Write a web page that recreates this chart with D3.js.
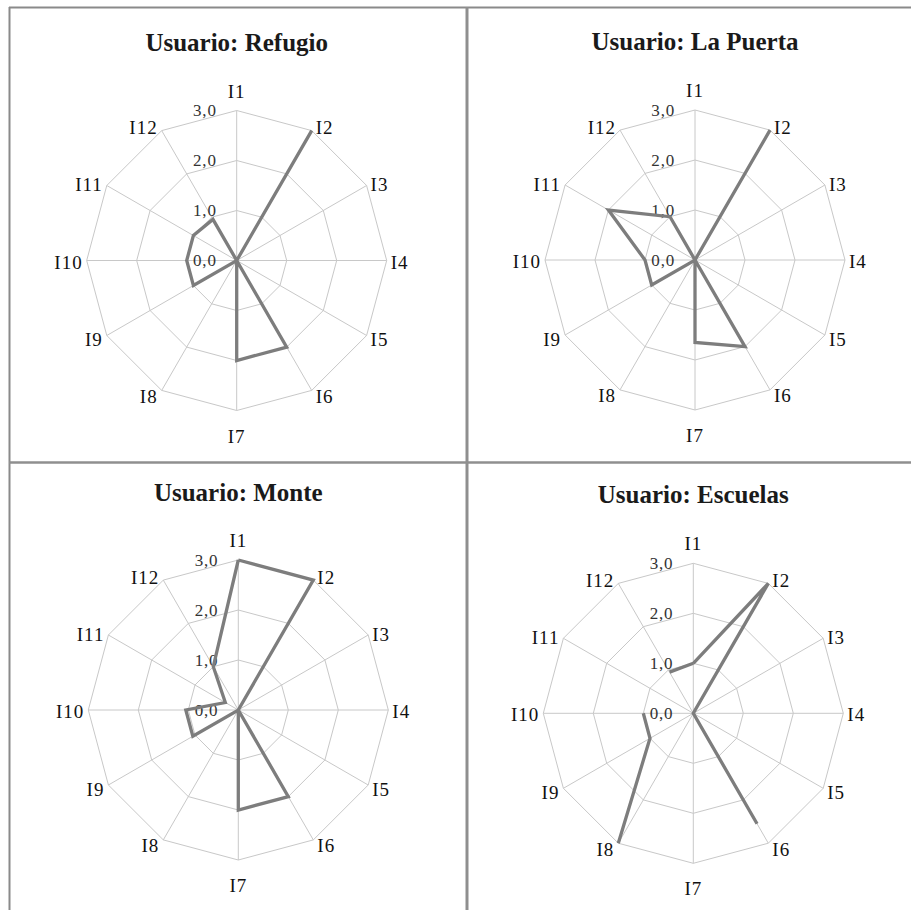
<!DOCTYPE html>
<html>
<head>
<meta charset="utf-8">
<script src="https://cdn.jsdelivr.net/npm/d3@7"></script>
<style>
  html, body { margin: 0; padding: 0; background: #ffffff; }
  svg { display: block; }
</style>
</head>
<body>
<svg id="chart" width="911" height="910"></svg>
<script>
// ---- data ----
const categories = ["I1","I2","I3","I4","I5","I6","I7","I8","I9","I10","I11","I12"];
const tickValues = [0, 1, 2, 3];
const tickLabels = ["0,0", "1,0", "2,0", "3,0"];
const titles = ["Usuario: Refugio", "Usuario: La Puerta", "Usuario: Monte", "Usuario: Escuelas"];
const refugio  = [0, 3, 0, 0, 0, 2, 2, 0, 1, 1, 1, 0.95];
const laPuerta = [0, 3, 0, 0, 0, 2, 1.65, 0, 1, 1, 2, 1];
const monte    = [3, 3, 0, 0, 0, 2, 2, 0, 1.05, 1.05, 0.3, 1];
const escuelas = [1, 3, 0, 0, 0, 2.55, null, 3, 1, 1, null, 0.95];

// ---- layout ----
const panels = [
  { title: titles[0], values: refugio,  cx: 236.7, cy: 260.5, ty: 51 },
  { title: titles[1], values: laPuerta, cx: 695,   cy: 260,   ty: 50 },
  { title: titles[2], values: monte,    cx: 238.3, cy: 710,   ty: 501 },
  { title: titles[3], values: escuelas, cx: 693.3, cy: 713.3, ty: 503 }
];
const R = 150;
const svg = d3.select("#chart");

const rScale = d3.scaleLinear().domain([0, 3]).range([0, R]);
const aScale = d3.scaleLinear().domain([0, categories.length]).range([0, 2 * Math.PI]);

function pt(i, v) {
  const a = aScale(i), r = rScale(v);
  return [r * Math.sin(a), -r * Math.cos(a)];
}

panels.forEach(p => {
  const g = svg.append("g").attr("transform", `translate(${p.cx},${p.cy})`);

  // rings
  tickValues.filter(t => t > 0).forEach(t => {
    g.append("path")
      .attr("d", d3.line()(categories.map((c, i) => pt(i, t))) + "Z")
      .attr("fill", "none")
      .attr("stroke", "#c8c8c8")
      .attr("stroke-width", 1);
  });
  // spokes
  categories.forEach((c, i) => {
    const e = pt(i, 3);
    g.append("line")
      .attr("x1", 0).attr("y1", 0)
      .attr("x2", e[0]).attr("y2", e[1])
      .attr("stroke", "#c8c8c8")
      .attr("stroke-width", 1);
  });

  // value labels
  tickValues.forEach((t, k) => {
    g.append("text")
      .attr("x", -20)
      .attr("y", -rScale(t))
      .attr("dy", "0.35em")
      .attr("text-anchor", "end")
      .attr("font-family", "Liberation Serif, serif")
      .attr("font-size", 17)
      .attr("letter-spacing", 0.8)
      .attr("fill", "#333333")
      .text(tickLabels[k]);
  });

  // category labels
  categories.forEach((c, i) => {
    const a = aScale(i);
    const s = Math.sin(a), co = Math.cos(a);
    const v = pt(i, 3);
    const t = g.append("text")
      .attr("font-family", "Liberation Serif, serif")
      .attr("font-size", 19)
      .attr("letter-spacing", 1)
      .attr("fill", "#111111")
      .text(c);
    if (i === 0) {
      t.attr("x", 0).attr("y", -R - 13).attr("text-anchor", "middle");
    } else if (i === 6) {
      t.attr("x", 0).attr("y", R + 32).attr("text-anchor", "middle");
    } else {
      t.attr("x", v[0] + (s > 0 ? 4 : -4))
       .attr("y", v[1] + 1.5 - 5 * co)
       .attr("dy", "0.35em")
       .attr("text-anchor", s > 0 ? "start" : "end");
    }
  });

  // data line (closed, with gaps for missing values)
  const idx = d3.range(categories.length + 1).map(i => i % categories.length);
  const line = d3.line()
    .defined(i => p.values[i] !== null)
    .x(i => pt(i, p.values[i])[0])
    .y(i => pt(i, p.values[i])[1]);
  g.append("path")
    .attr("d", line(idx))
    .attr("fill", "none")
    .attr("stroke", "#7d7d7d")
    .attr("stroke-width", 3.3)
    .attr("stroke-linejoin", "miter");

  // title
  svg.append("text")
    .attr("x", p.cx)
    .attr("y", p.ty)
    .attr("text-anchor", "middle")
    .attr("font-family", "Liberation Serif, serif")
    .attr("font-weight", "bold")
    .attr("font-size", 25)
    .attr("fill", "#1a1a1a")
    .text(p.title);
});

// frame lines
const frame = svg.append("g").attr("fill", "none");
frame.append("line").attr("x1", 9.5).attr("y1", 7).attr("x2", 9.5).attr("y2", 910)
  .attr("stroke", "#8a8a8a").attr("stroke-width", 2);
frame.append("line").attr("x1", 9).attr("y1", 7.5).attr("x2", 911).attr("y2", 7.5)
  .attr("stroke", "#8a8a8a").attr("stroke-width", 2);
frame.append("line").attr("x1", 467).attr("y1", 7).attr("x2", 467).attr("y2", 910)
  .attr("stroke", "#8f8f8f").attr("stroke-width", 3);
frame.append("line").attr("x1", 9).attr("y1", 462.5).attr("x2", 911).attr("y2", 462.5)
  .attr("stroke", "#8f8f8f").attr("stroke-width", 2.5);
</script>
</body>
</html>
